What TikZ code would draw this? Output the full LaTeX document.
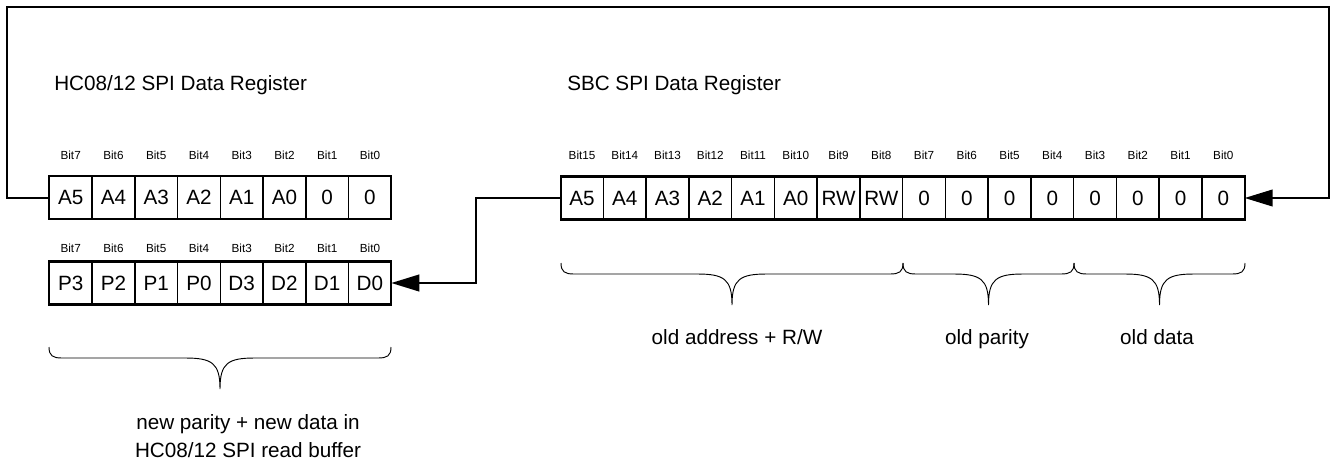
\documentclass[tikz,border=0pt]{standalone}
\usepackage{fontspec}
\setmainfont{Liberation Sans}
\usetikzlibrary{arrows.meta}
\newcommand\drawbrace[3]{%
 \draw[brc] (#1,#3) .. controls (#1,#3+9) and (#1+4,#3+11) .. (#1+13,#3+11)
  -- ({(#1+#2)/2-35},#3+11) .. controls ({(#1+#2)/2-8},#3+11) and ({(#1+#2)/2},#3+16) .. ({(#1+#2)/2},#3+42)
  .. controls ({(#1+#2)/2},#3+16) and ({(#1+#2)/2+8},#3+11) .. ({(#1+#2)/2+35},#3+11)
  -- (#2-13,#3+11) .. controls (#2-4,#3+11) and (#2,#3+9) .. (#2,#3);}
\begin{document}
\begin{tikzpicture}[x=0.75pt,y=-0.75pt,
  cell/.style={draw,line width=1.1pt,minimum width=32.06pt,minimum height=32.25pt,inner sep=0pt,outer sep=0pt,font=\fontsize{15.5}{18}\selectfont},
  bitlbl/.style={inner sep=0pt,font=\fontsize{8.8}{10}\selectfont},
  frame/.style={draw,line width=1.7pt},
  conn/.style={line width=1.5pt},
  arr/.style={-{Triangle[length=21pt,width=12.5pt]}},
  brc/.style={line width=0.7pt},
  lbl/.style={inner sep=0pt,font=\fontsize{15.5}{21}\selectfont,align=center}]
\useasboundingbox (0,0) rectangle (1337,464);

% titles
\node[lbl,anchor=base west] (t1) at (54,90) {HC08/12 SPI Data Register};
\node[lbl,anchor=base west] (t2) at (567,90) {SBC SPI Data Register};

% HC08 register, row 1
\foreach \t [count=\i from 0] in {A5,A4,A3,A2,A1,A0,0,0}
  \node[cell] (h1-\i) at ({49.3+42.75*(\i+0.5)},197.5) {\t};
\foreach \b [count=\i from 0] in {7,...,0}
  \node[bitlbl,anchor=base] (h1b-\i) at ({49.3+42.75*(\i+0.5)},159) {Bit\b};
\draw[frame] (h1-0.north west) rectangle (h1-7.south east);

% HC08 register, row 2
\foreach \t [count=\i from 0] in {P3,P2,P1,P0,D3,D2,D1,D0}
  \node[cell] (h2-\i) at ({49.3+42.75*(\i+0.5)},283) {\t};
\foreach \b [count=\i from 0] in {7,...,0}
  \node[bitlbl,anchor=base] (h2b-\i) at ({49.3+42.75*(\i+0.5)},252) {Bit\b};
\draw[frame] (h2-0.north west) rectangle (h2-7.south east);

% SBC register
\foreach \t [count=\i from 0] in {A5,A4,A3,A2,A1,A0,RW,RW,0,0,0,0,0,0,0,0}
  \node[cell] (s-\i) at ({560.7+42.75*(\i+0.5)},198) {\t};
\foreach \b [count=\i from 0] in {15,...,0}
  \node[bitlbl,anchor=base] (sb-\i) at ({560.7+42.75*(\i+0.5)},159) {Bit\b};
\draw[frame] (s-0.north west) rectangle (s-15.south east);

% connectors
\coordinate (tl) at (7,7);
\coordinate (tr) at (1329,7);
\coordinate (mid) at (476,240);
\draw[conn,arr] (h1-0.west) -| (tl) -| (tr) |- (s-15.east);
\draw[conn,arr] (s-0.west) -| (mid) |- (h2-7.east);

% braces
\drawbrace{49}{391}{347}
\drawbrace{561}{903}{263}
\drawbrace{903}{1074}{263}
\drawbrace{1074}{1245}{263}

% brace labels
\node[lbl,anchor=base] (l1) at (737,344) {old address + R/W};
\node[lbl,anchor=base] (l2) at (987,344) {old parity};
\node[lbl,anchor=base] (l3) at (1157,344) {old data};
\node[lbl] (l4) at (248,436) {new parity + new data in\\HC08/12 SPI read buffer};
\end{tikzpicture}
\end{document}
